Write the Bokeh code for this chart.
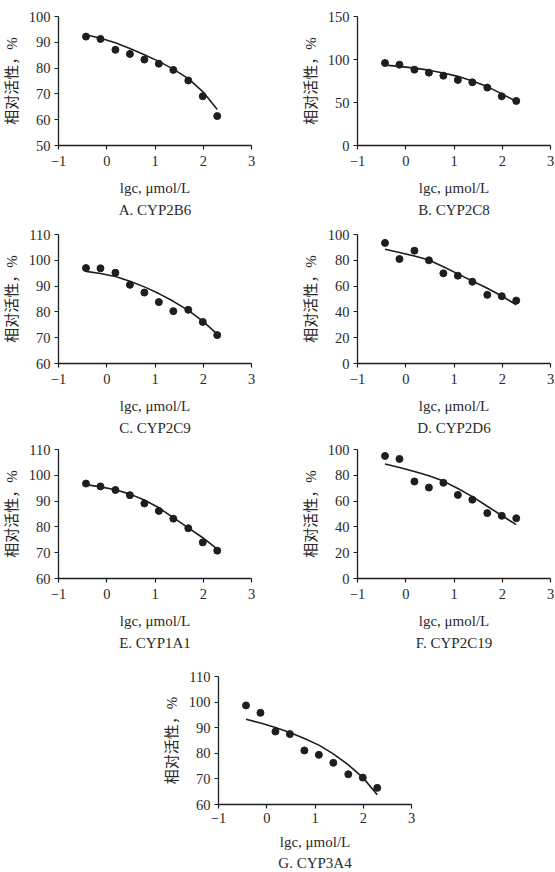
from bokeh.plotting import figure
from bokeh.models import Range1d, FixedTicker, Title
from bokeh.layouts import column, row
from bokeh.embed import file_html
from bokeh.resources import INLINE

# ---------------- data ----------------
lgc = [-0.43, -0.13, 0.18, 0.48, 0.78, 1.08, 1.38, 1.69, 1.99, 2.29]

cyp2b6_pts = [92.2, 91.3, 87.1, 85.5, 83.3, 81.7, 79.3, 75.2, 69.1, 61.4]
cyp2b6_fit = [92.9, 91.6, 89.8, 87.6, 85.2, 82.6, 79.6, 75.9, 70.9, 64.0]

cyp2c8_pts = [95.9, 94.0, 88.2, 84.7, 81.2, 76.2, 73.5, 67.3, 57.2, 51.8]
cyp2c8_fit = [93.5, 92.0, 90.0, 87.6, 84.4, 80.4, 75.0, 68.5, 60.0, 51.5]

cyp2c9_pts = [97.0, 96.9, 95.2, 90.5, 87.5, 83.8, 80.3, 80.8, 76.1, 71.0]
cyp2c9_fit = [95.7, 94.9, 93.7, 91.9, 89.7, 87.1, 84.1, 80.6, 76.4, 71.4]

cyp2d6_pts = [93.5, 81.0, 87.5, 80.0, 69.9, 68.1, 63.4, 53.2, 52.2, 48.8]
cyp2d6_fit = [88.5, 86.0, 83.3, 80.2, 75.0, 69.5, 64.0, 58.3, 52.3, 45.5]

cyp1a1_pts = [96.8, 95.7, 94.3, 92.3, 89.1, 86.2, 83.2, 79.5, 74.0, 70.8]
cyp1a1_fit = [96.4, 95.5, 94.4, 92.7, 90.4, 87.4, 83.6, 79.6, 75.8, 71.4]

cyp2c19_pts = [95.0, 92.7, 75.2, 70.5, 74.2, 64.8, 61.1, 50.7, 48.6, 46.7]
cyp2c19_fit = [88.8, 86.0, 83.0, 79.6, 75.5, 69.8, 63.5, 56.0, 48.8, 41.8]

cyp3a4_pts = [98.7, 95.8, 88.5, 87.5, 81.1, 79.4, 76.3, 71.8, 70.5, 66.5]
cyp3a4_fit = [93.3, 91.8, 90.1, 88.1, 85.8, 83.2, 79.8, 75.5, 70.6, 63.8]

x_ticks = [-1, 0, 1, 2, 3]
x_tick_labels = {-1: "\u22121", 0: "0", 1: "1", 2: "2", 3: "3"}

titles = ["A. CYP2B6", "B. CYP2C8", "C. CYP2C9", "D. CYP2D6",
          "E. CYP1A1", "F. CYP2C19", "G. CYP3A4"]
y_label = "相对活性，%"
x_label = "lgc, μmol/L"

# ---------------- style ----------------
INK = "#1e1e1e"
SERIF = "Liberation Serif"
MIXED = "Liberation Serif, Noto Sans CJK SC"


def panel(pts, fit, ylo, yhi, yticks, name, bl, br, bt, bb,
          tstand=6, lstand=11, titstand=3, fh=129):
    p = figure(frame_width=193, frame_height=fh,
               x_range=Range1d(-1, 3), y_range=Range1d(ylo, yhi),
               output_backend="svg", toolbar_location=None,
               title_location=None,
               min_border_left=bl, min_border_right=br,
               min_border_top=bt, min_border_bottom=bb)
    p.line(lgc, fit, line_color=INK, line_width=1.6)
    p.scatter(lgc, pts, size=7, color=INK)
    p.grid.visible = False
    p.outline_line_color = None
    p.background_fill_color = "white"
    p.border_fill_color = "white"

    p.xaxis.ticker = FixedTicker(ticks=x_ticks)
    p.xaxis.major_label_overrides = x_tick_labels
    p.yaxis.ticker = FixedTicker(ticks=yticks)
    for ax in (p.xaxis, p.yaxis):
        ax.axis_line_color = INK
        ax.axis_line_width = 1.3
        ax.major_tick_line_color = INK
        ax.major_tick_line_width = 1.2
        ax.major_tick_out = 4
        ax.major_tick_in = 0
        ax.minor_tick_out = 0
        ax.minor_tick_in = 0
        ax.major_label_text_font = SERIF
        ax.major_label_text_font_size = "14.5px"
        ax.major_label_text_color = "#2a2a2a"
        ax.axis_label_text_font_style = "normal"
        ax.axis_label_text_color = "#2a2a2a"
    p.xaxis.major_label_standoff = tstand
    p.yaxis.major_label_standoff = 4
    p.xaxis.axis_label = x_label
    p.xaxis.axis_label_text_font = SERIF
    p.xaxis.axis_label_text_font_size = "15px"
    p.xaxis.axis_label_standoff = lstand
    p.yaxis.axis_label = y_label
    p.yaxis.axis_label_text_font = MIXED
    p.yaxis.axis_label_text_font_size = "15px"
    p.yaxis.axis_label_standoff = 6

    t = Title(text=name, align="center", text_font=SERIF,
              text_font_size="15px", text_font_style="normal",
              text_color="#2a2a2a", standoff=titstand)
    p.add_layout(t, "below")
    return p


pa = panel(cyp2b6_pts, cyp2b6_fit, 50, 100, [50, 60, 70, 80, 90, 100], titles[0], 58, 20, 16, 81)
pb = panel(cyp2c8_pts, cyp2c8_fit, 0, 150, [0, 50, 100, 150], titles[1], 86, 4, 16, 81)
pc = panel(cyp2c9_pts, cyp2c9_fit, 60, 110, [60, 70, 80, 90, 100, 110], titles[2], 58, 20, 8, 78)
pd_ = panel(cyp2d6_pts, cyp2d6_fit, 0, 100, [0, 20, 40, 60, 80, 100], titles[3], 86, 4, 8, 78)
pe = panel(cyp1a1_pts, cyp1a1_fit, 60, 110, [60, 70, 80, 90, 100, 110], titles[4], 58, 20, 8, 90)
pf = panel(cyp2c19_pts, cyp2c19_fit, 0, 100, [0, 20, 40, 60, 80, 100], titles[5], 86, 4, 8, 90)
pg = panel(cyp3a4_pts, cyp3a4_fit, 60, 110, [60, 70, 80, 90, 100, 110], titles[6], 218, 10, 8, 64,
           tstand=4, lstand=8, titstand=0, fh=128)

layout = column(row(pa, pb), row(pc, pd_), row(pe, pf), pg)

open("out.html", "w").write(file_html(layout, INLINE))
